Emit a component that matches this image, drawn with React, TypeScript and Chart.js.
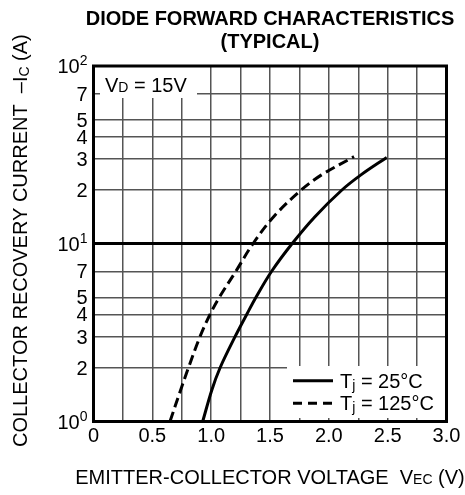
import React, { useEffect, useRef } from "react";
import { Chart, registerables } from "chart.js";

Chart.register(...registerables);

const titleLines = ["DIODE FORWARD CHARACTERISTICS", "(TYPICAL)"];
const xTitleParts = ["EMITTER-COLLECTOR VOLTAGE  V", "EC", " (V)"];
const yTitleParts = ["COLLECTOR RECOVERY CURRENT  \u2013I", "C", " (A)"];
const conditionParts = ["V", "D", " = 15V"];

const voltage25 = [0.928, 1.005, 1.075, 1.203, 1.302, 1.381, 1.514, 1.687, 1.882, 2.109, 2.273, 2.492];
const current25 = [1, 1.5, 2, 3, 4, 5, 7, 10, 14.2, 20, 24.4, 30.6];
const voltage125 = [0.65, 0.74, 0.806, 0.905, 0.99, 1.07, 1.21, 1.355, 1.531, 1.763, 1.938, 2.214];
const current125 = [1, 1.5, 2, 3, 4, 5, 7, 10, 14.2, 20, 24.4, 30.9];

const seriesLabels = [
  ["T", "j", " = 25\u00B0C"],
  ["T", "j", " = 125\u00B0C"],
];

const yTickValues = [1, 2, 3, 4, 5, 7, 10, 20, 30, 40, 50, 70, 100];
const yTickLabels = ["10^0", "2", "3", "4", "5", "7", "10^1", "2", "3", "4", "5", "7", "10^2"];
const xMin = 0;
const xMax = 3;
const xStep = 0.25;

const FONT = "'Liberation Sans', Arial, Helvetica, sans-serif";

function drawParts(ctx: CanvasRenderingContext2D, parts: string[], x: number, y: number, size: number, subSize: number, subDrop: number, bold = false) {
  let cx = x;
  parts.forEach((p, i) => {
    const isSub = i % 2 === 1;
    ctx.font = `${bold ? "bold " : ""}${isSub ? subSize : size}px ${FONT}`;
    ctx.fillText(p, cx, isSub ? y + subDrop : y);
    cx += ctx.measureText(p).width;
  });
  return cx - x;
}

function measureParts(ctx: CanvasRenderingContext2D, parts: string[], size: number, subSize: number) {
  let w = 0;
  parts.forEach((p, i) => {
    ctx.font = `${i % 2 === 1 ? subSize : size}px ${FONT}`;
    w += ctx.measureText(p).width;
  });
  return w;
}

const overlayPlugin = {
  id: "overlay",
  afterDraw(chart: any) {
    const { ctx, chartArea: a, scales } = chart;
    ctx.save();
    // white boxes
    ctx.fillStyle = "#fff";
    ctx.fillRect(287, 366, a.right - 287, 418 - 366);
    ctx.fillRect(100, a.top, 97, 98 - a.top);
    // border
    ctx.strokeStyle = "#000";
    ctx.lineWidth = 3;
    ctx.setLineDash([]);
    ctx.strokeRect(a.left, a.top, a.right - a.left, a.bottom - a.top);

    ctx.fillStyle = "#000";
    ctx.textBaseline = "alphabetic";
    ctx.textAlign = "left";

    // condition text
    drawParts(ctx, conditionParts, 105, 92, 20, 14, 0);

    // legend
    const rows = [380.7, 403.3];
    rows.forEach((ry, i) => {
      ctx.beginPath();
      ctx.lineWidth = 3;
      ctx.setLineDash(i === 0 ? [] : [9, 6]);
      ctx.moveTo(293, ry);
      ctx.lineTo(333, ry);
      ctx.stroke();
      ctx.setLineDash([]);
      drawParts(ctx, seriesLabels[i], 340, ry + 7, 20, 14, 2);
    });

    // y tick labels
    const yScale = scales.y;
    yTickValues.forEach((v, i) => {
      const y = yScale.getPixelForValue(v);
      const lab = yTickLabels[i];
      const rightX = 87.5;
      if (lab.includes("^")) {
        const [base, exp] = lab.split("^");
        ctx.font = `14px ${FONT}`;
        const ew = ctx.measureText(exp).width;
        ctx.textAlign = "left";
        ctx.textBaseline = "alphabetic";
        ctx.fillText(exp, rightX - ew, y - 1);
        ctx.font = `20px ${FONT}`;
        ctx.textAlign = "right";
        ctx.fillText(base, rightX - ew, y + 7);
      } else {
        ctx.font = `20px ${FONT}`;
        ctx.textAlign = "right";
        ctx.textBaseline = "alphabetic";
        ctx.fillText(lab, rightX, y + 7);
      }
    });
    ctx.textAlign = "left";

    // title
    const cx = (a.left + a.right) / 2;
    ctx.font = `bold 20px ${FONT}`;
    ctx.textAlign = "center";
    ctx.fillText(titleLines[0], cx, 25);
    ctx.fillText(titleLines[1], cx, 48);
    ctx.textAlign = "left";

    // x title
    const xw = measureParts(ctx, xTitleParts, 20, 14);
    drawParts(ctx, xTitleParts, cx - xw / 2, 484, 20, 14, 0);

    // y title
    ctx.save();
    ctx.translate(27, 447);
    ctx.rotate(-Math.PI / 2);
    drawParts(ctx, yTitleParts, 0, 0, 20, 14, 2);
    ctx.restore();

    ctx.restore();
  },
};

export default function App() {
  const ref = useRef<HTMLCanvasElement | null>(null);
  useEffect(() => {
    if (!ref.current) return;
    const chart = new Chart(ref.current, {
      type: "line",
      data: {
        datasets: [
          {
            label: seriesLabels[0].join(""),
            data: voltage25.map((v, i) => ({ x: v, y: current25[i] })),
            borderColor: "#000",
            borderWidth: 3,
            pointRadius: 0,
            tension: 0.35,
            fill: false,
          },
          {
            label: seriesLabels[1].join(""),
            data: voltage125.map((v, i) => ({ x: v, y: current125[i] })),
            borderColor: "#000",
            borderWidth: 3,
            borderDash: [10, 5],
            pointRadius: 0,
            tension: 0.35,
            fill: false,
          },
        ],
      },
      options: {
        animation: false,
        responsive: false,
        devicePixelRatio: 1,
        layout: { padding: { top: 66, right: 18.5, left: 0, bottom: 0 } },
        plugins: { legend: { display: false }, title: { display: false }, tooltip: { enabled: false } },
        scales: {
          x: {
            type: "linear",
            min: xMin,
            max: xMax,
            afterFit: (s: any) => {
              s.height = 495 - 421.5;
            },
            ticks: {
              stepSize: xStep,
              autoSkip: false,
              maxRotation: 0,
              padding: 3,
              color: "#000",
              font: { size: 20, family: FONT },
              callback: (v: any) => {
                const n = Number(v);
                if (Math.abs(n * 2 - Math.round(n * 2)) > 1e-6) return "";
                return n === 0 ? "0" : n.toFixed(1);
              },
            },
            grid: { color: "#555", lineWidth: 1.5, drawTicks: false },
            border: { display: false },
          },
          y: {
            type: "logarithmic",
            min: 1,
            max: 100,
            afterFit: (s: any) => {
              s.width = 93.5;
            },
            afterBuildTicks: (s: any) => {
              s.ticks = yTickValues.map((v) => ({ value: v }));
            },
            ticks: { display: false },
            grid: {
              color: (c: any) => (c.tick && c.tick.value === 10 ? "#000" : "#555"),
              lineWidth: (c: any) => (c.tick && c.tick.value === 10 ? 3 : 1.5),
              drawTicks: false,
            },
            border: { display: false },
          },
        },
      },
      plugins: [overlayPlugin],
    } as any);
    return () => chart.destroy();
  }, []);
  return (
    <div style={{ position: "fixed", left: 0, top: 0, width: 465, height: 495, background: "#fff" }}>
      <canvas ref={ref} width={465} height={495} style={{ display: "block" }} />
    </div>
  );
}
